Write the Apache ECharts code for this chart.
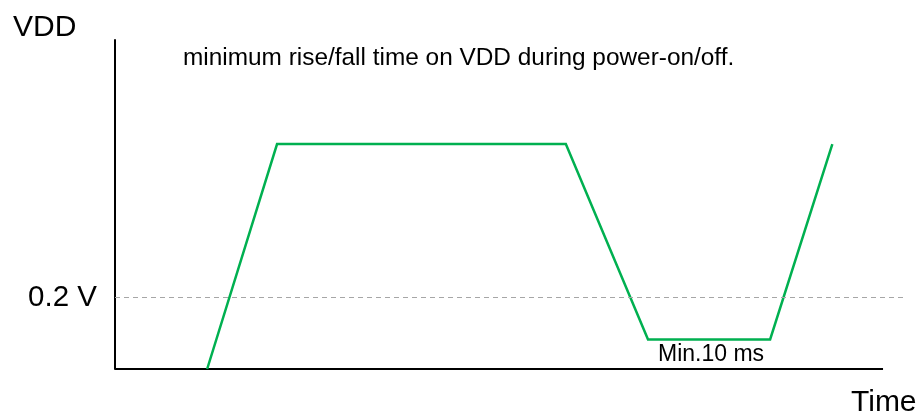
<!DOCTYPE html>
<html>
<head>
<meta charset="utf-8">
<script src="https://cdn.jsdelivr.net/npm/echarts@6/dist/echarts.min.js"></script>
<style>html,body{margin:0;padding:0;background:#fff;}#c{width:920px;height:412px;}</style>
</head>
<body>
<div id="c"></div>
<script>
// Data
const timePoints = [12.0, 21.1, 58.7, 69.4, 85.3, 93.4];
const vddValues = [0, 0.631, 0.631, 0.083, 0.083, 0.631];
const thresholdValue = 0.2;
const baselineSpan = [0, 100];
const yLabelText = '0.2 V';
const yName = 'VDD';
const xName = 'Time';
const titleText = 'minimum rise/fall time on VDD during power-on/off.';
const noteText = 'Min.10 ms';

const FONT = "'Liberation Sans', Arial, Helvetica, sans-serif";
const chart = echarts.init(document.getElementById('c'), null, {renderer: 'canvas'});

chart.setOption({
  animation: false,
  backgroundColor: '#ffffff',
  grid: {left: 115, right: 17, top: 40, bottom: 43, containLabel: false},
  xAxis: {
    type: 'value', min: 0, max: 102.6,
    axisLine: {show: false},
    axisTick: {show: false}, axisLabel: {show: false}, splitLine: {show: false}
  },
  yAxis: {
    type: 'value', min: 0, max: 0.923, interval: 0.2,
    axisLine: {show: true, lineStyle: {color: '#000', width: 2}},
    axisTick: {show: false},
    axisLabel: {
      show: true, margin: 18, fontSize: 29.5, color: '#000', fontFamily: FONT,
      padding: [6, 0, 0, 0],
      formatter: function (v) { return Math.abs(v - thresholdValue) < 1e-6 ? yLabelText : ''; }
    },
    splitLine: {show: false}
  },
  series: [
    {
      type: 'line', clip: false, symbol: 'none', silent: true,
      data: baselineSpan.map(function (x) { return [x, 0]; }),
      lineStyle: {color: '#000', width: 2},
      markLine: {
        silent: true, symbol: ['none', 'none'], label: {show: false},
        lineStyle: {color: '#a6a6a6', width: 1, type: [5, 4]},
        data: [{yAxis: thresholdValue}]
      },
      z: 2
    },
    {
      type: 'line', symbol: 'none', clip: false,
      data: timePoints.map(function (t, i) { return [t, vddValues[i]]; }),
      lineStyle: {color: '#00b050', width: 2.5, join: 'miter'},
      z: 3
    }
  ],
  graphic: [
    {type: 'text', left: 13, top: 12.4, style: {text: yName, fontSize: 30, fontFamily: FONT, fill: '#000'}},
    {type: 'text', left: 183, top: 46.4, style: {text: titleText, fontSize: 24.4, fontFamily: FONT, fill: '#000'}},
    {type: 'text', left: 851, top: 387.4, style: {text: xName, fontSize: 30, fontFamily: FONT, fill: '#000'}},
    {type: 'text', left: 658, top: 343.1, style: {text: noteText, fontSize: 23, fontFamily: FONT, fill: '#000'}}
  ]
});
</script>
</body>
</html>
